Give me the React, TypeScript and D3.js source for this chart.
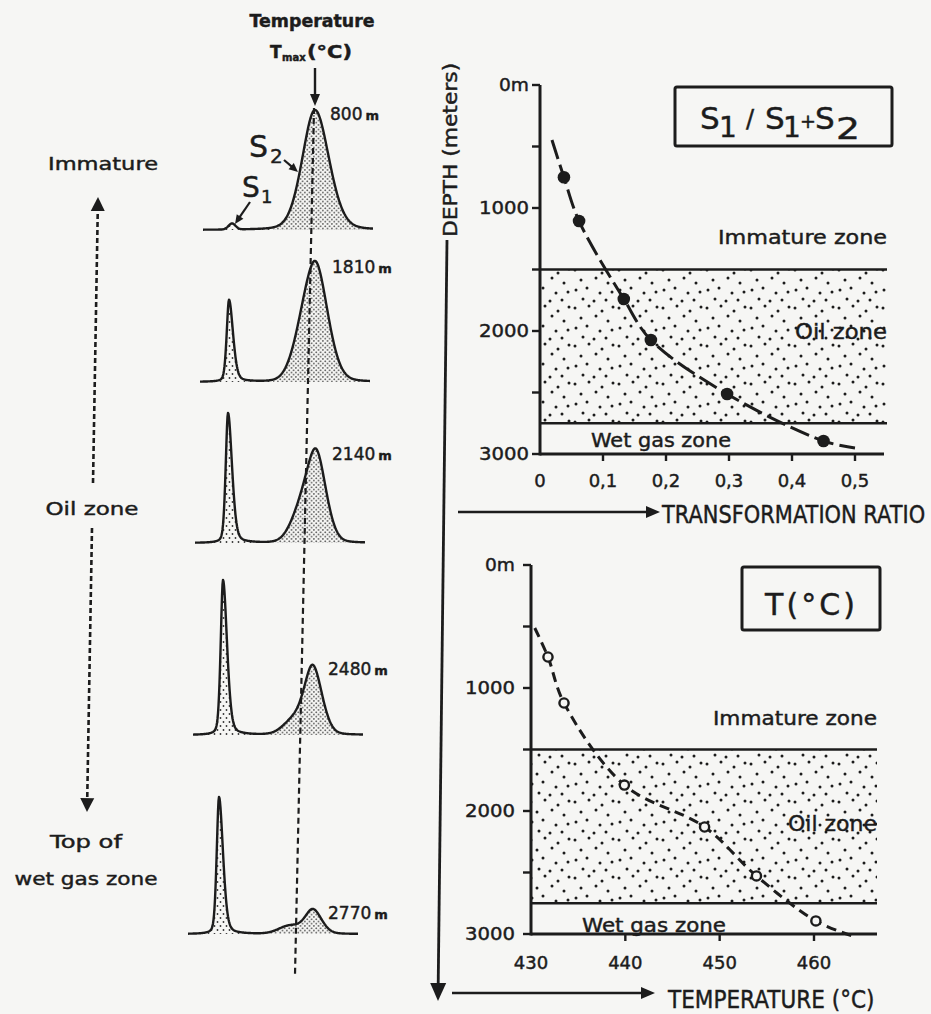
import React from "react";
import * as d3 from "d3";

// ---------------- Data ----------------
// Pyrolysis chromatograms (left column)
const sampleDepthLabels = ["800", "1810", "2140", "2480", "2770"];
const s1Heights = [6, 82, 130, 155, 137];
const s2Heights = [120, 119, 93, 70, 25];
const s1Positions = [29, 29, 33, 30, 31];
const s2Positions = [112, 117, 122, 120, 125];
const s2Widths = [13, 11, 9, 8.5, 8];
const shoulderHeights = [0, 38, 35, 15, 8];
const shoulderPositions = [0, 103, 108, 102, 102];

// Transformation ratio panel
const ratioTicks = [0, 0.1, 0.2, 0.3, 0.4, 0.5];
const ratioTickLabels = ["0", "0,1", "0,2", "0,3", "0,4", "0,5"];
const ratioValues = [0.038, 0.062, 0.133, 0.176, 0.297, 0.45];
const ratioDepths = [750, 1106, 1740, 2073, 2512, 2894];
const ratioCurveStart = [0.019, 447];
const ratioCurveEnd = [0.5, 2951];

// Tmax panel
const tempTicks = [430, 440, 450, 460];
const tempTickLabels = ["430", "440", "450", "460"];
const tmaxValues = [431.8, 433.5, 439.9, 448.4, 453.9, 460.2];
const tmaxDepths = [748, 1122, 1789, 2130, 2528, 2894];
const tmaxCurveStart = [430.4, 512];
const tmaxCurveEnd = [464.1, 3016];

// Depth axis and zones
const depthTicks = [0, 1000, 2000, 3000];
const depthTickLabels = ["0m", "1000", "2000", "3000"];
const depthMinorTicks = [500, 1500, 2500];
const oilZoneTop = 1500;
const oilZoneBottom = 2750;
const depthMax = 3000;

// ---------------- Layout / style ----------------
const W = 931;
const H = 1014;
const FONT = "'DejaVu Sans', sans-serif";
const INK = "#1c1c1c";
const PAPER = "#f6f6f4";
const TS = 0.45; // slight text outline to mimic heavy print
const rowBaselines = [230, 382, 543, 735, 934];
const rowLefts = [203, 200, 195, 193, 188];
const ROW_W = 170;
const SHOULDER_W = 11;
const oilDotTile = [
  [3, 4], [17, 2], [30, 7], [41, 3], [9, 14], [24, 12], [36, 17],
  [4, 24], [15, 22], [28, 27], [40, 26], [11, 33], [22, 35], [34, 34],
];

function pv(x: number, c: number, h: number, wl: number, wr: number, eta: number) {
  const w = x < c ? wl : wr;
  const u = (x - c) / w;
  return h * ((1 - eta) * Math.exp(-0.5 * u * u) + eta / (1 + u * u));
}

function Head({ x, y, angle, len = 14, half = 6 }: any) {
  const bx = x - len * Math.cos(angle);
  const by = y - len * Math.sin(angle);
  const px = -Math.sin(angle) * half;
  const py = Math.cos(angle) * half;
  return (
    <polygon
      points={`${x},${y} ${bx + px},${by + py} ${bx - px},${by - py}`}
      fill={INK}
    />
  );
}

function Arrow({ x1, y1, x2, y2, len = 14, half = 6, sw = 2.5, dash }: any) {
  const a = Math.atan2(y2 - y1, x2 - x1);
  const ex = x2 - (len - 2) * Math.cos(a);
  const ey = y2 - (len - 2) * Math.sin(a);
  return (
    <g>
      <line x1={x1} y1={y1} x2={ex} y2={ey} stroke={INK} strokeWidth={sw} strokeDasharray={dash} />
      <Head x={x2} y={y2} angle={a} len={len} half={half} />
    </g>
  );
}

function Txt({ children, ...rest }: any) {
  return (
    <text fontFamily={FONT} fill={INK} stroke={INK} strokeWidth={TS} {...rest}>
      {children}
    </text>
  );
}

function Chromatogram({ i }: { i: number }) {
  const base = rowBaselines[i];
  const left = rowLefts[i];
  const xs = d3.scaleLinear().domain([0, ROW_W]).range([left, left + ROW_W]);
  const ys = d3.scaleLinear().domain([0, 160]).range([base, base - 160]);
  const s1w = i === 0 ? [3.5, 3.5, 0] : [2.4, 4.2, 0.35];
  const shoulder = (x: number) =>
    shoulderHeights[i] ? pv(x, shoulderPositions[i], shoulderHeights[i], SHOULDER_W, SHOULDER_W, 0) : 0;
  const s2Main = s2Heights[i] - shoulder(s2Positions[i]);
  const f = (x: number) =>
    pv(x, s1Positions[i], s1Heights[i], s1w[0], s1w[1], s1w[2]) +
    pv(x, s2Positions[i], s2Main, s2Widths[i], s2Widths[i] * 1.1, 0.2) +
    shoulder(x);
  const samples = d3.range(0, ROW_W + 0.01, 0.5).map((x) => [x, f(x)]);
  const split = (s1Positions[i] + s2Positions[i]) / 2;
  const area = d3
    .area<number[]>()
    .x((d) => xs(d[0]))
    .y0(base)
    .y1((d) => ys(d[1]));
  const line = d3
    .line<number[]>()
    .x((d) => xs(d[0]))
    .y((d) => ys(d[1]));
  const topX = xs(s2Positions[i]);
  const topY = ys(s2Heights[i]);
  return (
    <g>
      <path d={area(samples.filter((d) => d[0] <= split)) || ""} fill="url(#stipS1)" />
      <path d={area(samples.filter((d) => d[0] >= split)) || ""} fill="url(#stipS2)" />
      <path d={line(samples) || ""} fill="none" stroke={INK} strokeWidth={2.4} strokeLinejoin="round" />
      <Txt x={topX + 15} y={topY + 10} fontSize={17}>
        {sampleDepthLabels[i]}
        <tspan fontSize={13} fontWeight="bold" dx={3}>m</tspan>
      </Txt>
    </g>
  );
}

function Panel(props: any) {
  const {
    xs, ys, axisEnd, zoneEnd, ticks, tickLabels, tickStart, labelGap,
    pts, curve, dash, filled, immY, oilY, wetY, wetX, immLen, oilLen, wetLen, xLabelDy,
  } = props;
  const ax = xs.range()[0];
  const y0 = ys(0);
  const y3 = ys(depthMax);
  const lineGen = d3
    .line<number[]>()
    .x((d) => xs(d[0]))
    .y((d) => ys(d[1]))
    .curve(d3.curveCatmullRom.alpha(0.5));
  return (
    <g>
      <rect x={ax} y={ys(oilZoneTop)} width={zoneEnd - ax} height={ys(oilZoneBottom) - ys(oilZoneTop)} fill="url(#oilDots)" />
      <line x1={ax} x2={zoneEnd} y1={ys(oilZoneTop)} y2={ys(oilZoneTop)} stroke={INK} strokeWidth={2.4} />
      <line x1={ax} x2={zoneEnd} y1={ys(oilZoneBottom)} y2={ys(oilZoneBottom)} stroke={INK} strokeWidth={2.4} />
      <line x1={ax} x2={ax} y1={y0} y2={y3 + 1.5} stroke={INK} strokeWidth={3} />
      <line x1={ax} x2={axisEnd} y1={y3} y2={y3} stroke={INK} strokeWidth={3.2} />
      {[...depthTicks, ...depthMinorTicks].map((d) => (
        <line key={d} x1={ax - 8} x2={ax} y1={ys(d)} y2={ys(d)} stroke={INK} strokeWidth={2.4} />
      ))}
      {depthTicks.map((d, k) => (
        <Txt key={d} x={ax - labelGap} y={ys(d) + 6} textAnchor="end" fontSize={18}
          textLength={k === 0 ? 30 : 50} lengthAdjust="spacingAndGlyphs">
          {depthTickLabels[k]}
        </Txt>
      ))}
      {ticks.map((t: number, k: number) => (
        <g key={t}>
          {k >= tickStart && <line x1={xs(t)} x2={xs(t)} y1={y3} y2={y3 + 7} stroke={INK} strokeWidth={2.4} />}
          <Txt x={xs(t)} y={y3 + xLabelDy} textAnchor="middle" fontSize={18}>
            {tickLabels[k]}
          </Txt>
        </g>
      ))}
      <Txt x={zoneEnd} y={ys(immY)} textAnchor="end" fontSize={20} textLength={immLen} lengthAdjust="spacingAndGlyphs">Immature zone</Txt>
      <Txt x={zoneEnd} y={ys(oilY)} textAnchor="end" fontSize={21} textLength={oilLen} lengthAdjust="spacingAndGlyphs">Oil zone</Txt>
      <Txt x={wetX} y={ys(wetY)} fontSize={20} textLength={wetLen} lengthAdjust="spacingAndGlyphs">Wet gas zone</Txt>
      <path d={lineGen(curve) || ""} fill="none" stroke={INK} strokeWidth={3} strokeDasharray={dash} />
      {pts.map((p: number[], k: number) =>
        filled ? (
          <circle key={k} cx={xs(p[0])} cy={ys(p[1])} r={6.3} fill={INK} />
        ) : (
          <circle key={k} cx={xs(p[0])} cy={ys(p[1])} r={4.6} fill={PAPER} stroke={INK} strokeWidth={2.4} />
        )
      )}
    </g>
  );
}

export default function App() {
  const trX = d3.scaleLinear().domain([0, 0.5]).range([540, 855]);
  const trY = d3.scaleLinear().domain([0, depthMax]).range([85, 454]);
  const tX = d3.scaleLinear().domain([430, 460]).range([531, 814]);
  const tY = d3.scaleLinear().domain([0, depthMax]).range([565, 934]);

  const ratioPts = ratioValues.map((v, k) => [v, ratioDepths[k]]);
  const ratioCurve = [ratioCurveStart, ...ratioPts, ratioCurveEnd];
  const tmaxPts = tmaxValues.map((v, k) => [v, tmaxDepths[k]]);
  const tmaxCurve = [tmaxCurveStart, ...tmaxPts, tmaxCurveEnd];

  return (
    <svg width={W} height={H} viewBox={`0 0 ${W} ${H}`}
      style={{ position: "absolute", left: 0, top: 0, display: "block", background: PAPER }}>
      <defs>
        <pattern id="oilDots" width={44} height={38} patternUnits="userSpaceOnUse">
          {oilDotTile.map((p, k) => (
            <circle key={k} cx={p[0]} cy={p[1]} r={1.5} fill={INK} />
          ))}
        </pattern>
        <pattern id="stipS2" width={4.5} height={4.5} patternUnits="userSpaceOnUse">
          <circle cx={1.2} cy={1.2} r={0.85} fill="#333" />
          <circle cx={3.45} cy={3.45} r={0.85} fill="#333" />
        </pattern>
        <pattern id="stipS1" width={6} height={8} patternUnits="userSpaceOnUse">
          <circle cx={1.5} cy={2} r={0.9} fill="#333" />
          <circle cx={4.5} cy={6} r={0.9} fill="#333" />
        </pattern>
      </defs>
      <rect x={0} y={0} width={W} height={H} fill={PAPER} />

      {/* ---------- Left column: chromatograms ---------- */}
      <Txt x={312} y={27} textAnchor="middle" fontWeight="bold" fontSize={17} textLength={125} lengthAdjust="spacingAndGlyphs">Temperature</Txt>
      <Txt x={270} y={58} fontWeight="bold" fontSize={17}>T</Txt>
      <Txt x={282} y={61} fontWeight="bold" fontSize={10}>max</Txt>
      <Txt x={307} y={58} fontWeight="bold" fontSize={17} textLength={45} lengthAdjust="spacingAndGlyphs">(°C)</Txt>
      <Arrow x1={315} y1={68} x2={315} y2={106} len={12} half={5} sw={2.4} />

      {rowBaselines.map((_, i) => (
        <Chromatogram key={i} i={i} />
      ))}
      <line x1={314} y1={108} x2={295} y2={975} stroke={INK} strokeWidth={2.2} strokeDasharray="6 4" />

      {/* S1 / S2 annotations */}
      <Txt x={249} y={157} fontSize={30}>S</Txt>
      <Txt x={270} y={163} fontSize={20}>2</Txt>
      <Arrow x1={284} y1={160} x2={298} y2={172} len={9} half={4} sw={2.2} />
      <Txt x={242} y={197} fontSize={28}>S</Txt>
      <Txt x={261} y={203} fontSize={18}>1</Txt>
      <Arrow x1={250} y1={202} x2={235} y2={224} len={9} half={4} sw={2.2} />

      {/* maturity labels */}
      <Txt x={103} y={170} textAnchor="middle" fontSize={18} textLength={110} lengthAdjust="spacingAndGlyphs">Immature</Txt>
      <Arrow x1={93} y1={483} x2={98} y2={197} len={14} half={7} sw={2.6} dash="5 3" />
      <Txt x={92} y={515} textAnchor="middle" fontSize={18} textLength={93} lengthAdjust="spacingAndGlyphs">Oil zone</Txt>
      <Arrow x1={92} y1={528} x2={87} y2={812} len={14} half={7} sw={2.6} dash="5 3" />
      <Txt x={86} y={848} textAnchor="middle" fontSize={18} textLength={72} lengthAdjust="spacingAndGlyphs">Top of</Txt>
      <Txt x={86} y={885} textAnchor="middle" fontSize={18} textLength={143} lengthAdjust="spacingAndGlyphs">wet gas zone</Txt>

      {/* ---------- Depth axis (shared) ---------- */}
      <Txt transform="translate(457,150) rotate(-90) scale(0.85,1)" textAnchor="middle" fontSize={19} textLength={205} lengthAdjust="spacingAndGlyphs">DEPTH (meters)</Txt>
      <Arrow x1={447} y1={240} x2={438} y2={1001} len={18} half={8} sw={2.8} />

      {/* ---------- Top panel: transformation ratio ---------- */}
      <Panel xs={trX} ys={trY} axisEnd={884} zoneEnd={887}
        ticks={ratioTicks} tickLabels={ratioTickLabels} tickStart={1} labelGap={11} xLabelDy={33}
        pts={ratioPts} curve={ratioCurve} dash="20 6" filled={true}
        immY={1290} oilY={2065} wetY={2943} wetX={591} immLen={169} oilLen={92} wetLen={140} />
      <rect x={675} y={87} width={217} height={59} fill="none" stroke={INK} strokeWidth={3} rx={2} />
      <Txt x={700} y={129} fontSize={31}>S</Txt>
      <Txt x={719} y={137} fontSize={28}>1</Txt>
      <Txt x={746} y={127} fontSize={24}>/</Txt>
      <Txt x={765} y={129} fontSize={31}>S</Txt>
      <Txt x={783} y={137} fontSize={28}>1</Txt>
      <Txt x={800} y={128} fontSize={19}>+</Txt>
      <Txt x={815} y={129} fontSize={31}>S</Txt>
      <Txt x={836} y={139} fontSize={30} textLength={24} lengthAdjust="spacingAndGlyphs">2</Txt>
      <Arrow x1={458} y1={512} x2={660} y2={512} len={14} half={6} sw={2.6} />
      <Txt transform="translate(662,523) scale(0.82,1)" x={0} y={0} fontSize={25} textLength={321} lengthAdjust="spacingAndGlyphs">TRANSFORMATION RATIO</Txt>

      {/* ---------- Bottom panel: Tmax ---------- */}
      <Panel xs={tX} ys={tY} axisEnd={877} zoneEnd={877}
        ticks={tempTicks} tickLabels={tempTickLabels} tickStart={1} labelGap={16} xLabelDy={35}
        pts={tmaxPts} curve={tmaxCurve} dash="10 6" filled={false}
        immY={1300} oilY={2163} wetY={2984} wetX={582} immLen={164} oilLen={89} wetLen={144} />
      <rect x={742} y={567} width={138} height={63} fill="none" stroke={INK} strokeWidth={3} rx={2} />
      <Txt x={765} y={615} fontSize={30} textLength={90} lengthAdjust="spacing">T(°C)</Txt>
      <Arrow x1={452} y1={993} x2={655} y2={993} len={14} half={6} sw={2.6} />
      <Txt transform="translate(668,1008) scale(0.85,1)" x={0} y={0} fontSize={24} textLength={243} lengthAdjust="spacingAndGlyphs">TEMPERATURE (°C)</Txt>
    </svg>
  );
}
